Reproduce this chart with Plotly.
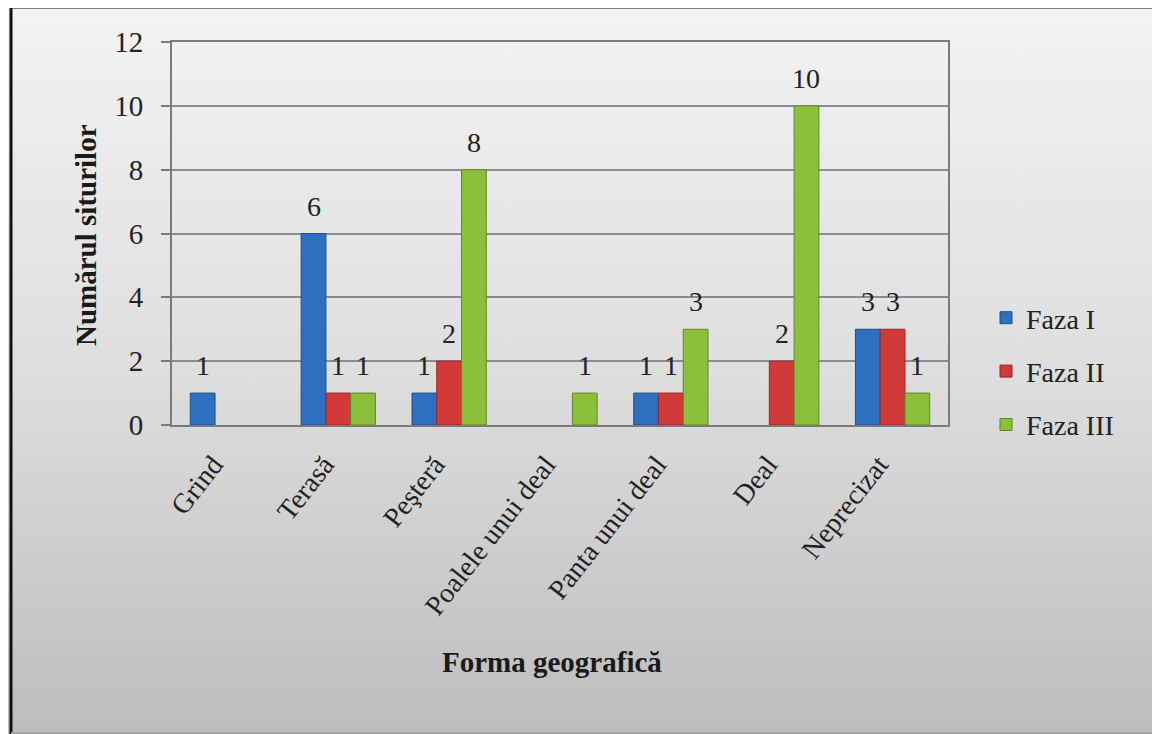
import base64
import plotly.graph_objects as go

# ---- data ----
categories = ["Grind", "Terasă", "Peşteră", "Poalele unui deal", "Panta unui deal", "Deal", "Neprecizat"]
faza_1 = [1, 6, 1, 0, 1, 0, 3]
faza_2 = [0, 1, 2, 0, 1, 2, 3]
faza_3 = [0, 1, 8, 1, 3, 10, 1]
series_names = ["Faza I", "Faza II", "Faza III"]
y_tick_values = [0, 2, 4, 6, 8, 10, 12]

# ---- styling ----
OFF = 8  # page body margin
W, H = 1160 - OFF, 734 - OFF
ML, MR, MT, MB = 172 - OFF, 212, 42 - OFF, 309
PW, PH = W - ML - MR, H - MT - MB
BARGAP = 0.33
FONT = "Liberation Serif"
colors = ["#2f6fc0", "#d23a3a", "#8bc03c"]
edge = ["#1d4f8f", "#9c2323", "#5f8a22"]

series = [faza_1, faza_2, faza_3]

fig = go.Figure()
for i, (name, vals) in enumerate(zip(series_names, series)):
    fig.add_trace(go.Bar(
        x=categories,
        y=[v if v else None for v in vals],
        name=name,
        legendgroup=name,
        marker=dict(color=colors[i], line=dict(color=edge[i], width=1)),
        hoverinfo="x+y+name",
    ))


def px_x(p):
    return (p - OFF - ML) / PW


def px_y(p):
    return (MT + PH - (p - OFF)) / PH


# data labels
bar_px = PW / len(categories) * (1 - BARGAP) / len(series)
annotations = []
for i, vals in enumerate(series):
    for cat, v in zip(categories, vals):
        if v:
            annotations.append(dict(
                x=cat, y=v, xref="x", yref="y", text=str(v), showarrow=False,
                xshift=(i - 1) * bar_px, yshift=10, yanchor="bottom",
                font=dict(family=FONT, size=28, color="#222222"),
            ))

# axis titles
annotations.append(dict(
    x=px_x(68), y=px_y(235), xref="paper", yref="paper",
    text="<b>Numărul siturilor</b>", textangle=-90, showarrow=False,
    font=dict(family=FONT, size=29, color="#1a1a1a"),
))
annotations.append(dict(
    x=px_x(552), y=px_y(680), xref="paper", yref="paper",
    text="<b>Forma geografică</b>", showarrow=False,
    font=dict(family=FONT, size=29, color="#1a1a1a"),
))

svg = ('<svg xmlns="http://www.w3.org/2000/svg" width="100" height="100" preserveAspectRatio="none">'
       '<defs><linearGradient id="g" x1="0" y1="0" x2="0" y2="1">'
       '<stop offset="0" stop-color="#f3f3f3"/><stop offset="0.5" stop-color="#dedede"/>'
       '<stop offset="1" stop-color="#bdbdbd"/></linearGradient></defs>'
       '<rect width="100" height="100" fill="url(#g)"/></svg>')
bg_src = "data:image/svg+xml;base64," + base64.b64encode(svg.encode()).decode()

shapes = [
    dict(type="line", xref="paper", yref="paper", x0=px_x(11), x1=px_x(1160), y0=px_y(7), y1=px_y(7),
         line=dict(color="#111111", width=3)),
    dict(type="line", xref="paper", yref="paper", x0=px_x(11), x1=px_x(11), y0=px_y(7), y1=px_y(734),
         line=dict(color="#111111", width=3)),
    dict(type="line", xref="paper", yref="paper", x0=px_x(1157), x1=px_x(1157), y0=px_y(8), y1=px_y(734),
         line=dict(color="#a8a8a8", width=2)),
    dict(type="line", xref="paper", yref="paper", x0=px_x(11), x1=px_x(1160), y0=px_y(733), y1=px_y(733),
         line=dict(color="#a0a0a0", width=2)),
]

fig.update_layout(
    width=W, height=H,
    margin=dict(l=ML, r=MR, t=MT, b=MB),
    paper_bgcolor="#d9d9d9",
    plot_bgcolor="rgba(0,0,0,0)",
    barmode="group",
    bargap=BARGAP,
    bargroupgap=0,
    font=dict(family=FONT, size=28, color="#222222"),
    images=[dict(source=bg_src, xref="paper", yref="paper", x=-ML / PW, y=1 + MT / PH,
                 sizex=W / PW, sizey=H / PH, xanchor="left", yanchor="top",
                 sizing="stretch", layer="below")],
    legend=dict(x=px_x(986), y=px_y(293), xanchor="left", yanchor="top",
                font=dict(family=FONT, size=28, color="#222222"),
                bgcolor="rgba(0,0,0,0)", tracegroupgap=14),
    annotations=annotations,
    shapes=shapes,
    xaxis=dict(
        tickangle=-52, tickfont=dict(family=FONT, size=28, color="#222222"),
        showline=True, linecolor="#7a7a7a", linewidth=2, mirror=True,
        ticks="", showgrid=False, ticklabelshift=-14, ticklabelstandoff=10,
    ),
    yaxis=dict(
        range=[0, 12], tickvals=y_tick_values,
        tickfont=dict(family=FONT, size=29, color="#222222"),
        showline=True, linecolor="#7a7a7a", linewidth=2, mirror=True,
        ticks="outside", ticklen=9, tickcolor="#7a7a7a", tickwidth=2,
        showgrid=True, gridcolor="#8c8c8c", gridwidth=1.5,
        zeroline=False, ticklabelstandoff=12,
    ),
)

fig.write_html("out.html")
